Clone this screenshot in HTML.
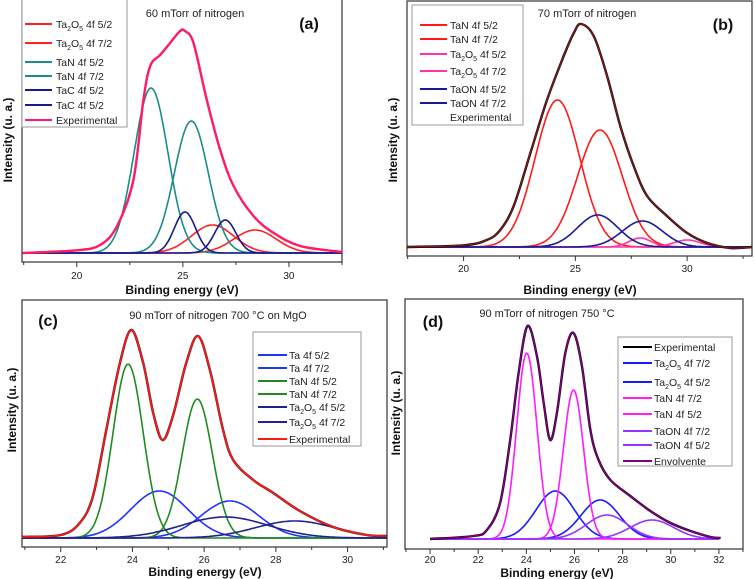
<!DOCTYPE html>
<html><head><meta charset="utf-8"><style>
html,body{margin:0;padding:0;background:#fff;}
svg{display:block;font-family:"Liberation Sans",Arial,sans-serif;}
</style></head><body>
<svg id="fig" width="755" height="579" viewBox="0 0 755 579" xmlns="http://www.w3.org/2000/svg"></svg>
<script>
// ---------- Panel (a) data ----------
const aExpX = [17.44,20,21.1,21.9,22.67,23.14,23.46,23.93,24.4,24.87,25.1,25.5,26.13,26.76,27.39,28.33,29.28,30.53,32.5];
const aExpY = [0,2.7,8,27,73,153,187,198,210,222,222,210,153,103,67,37,20,7,1];
const aPeakNames = ["Ta2O5 4f 5/2","Ta2O5 4f 7/2","TaN 4f 5/2","TaN 4f 7/2","TaC 4f 5/2","TaC 4f 5/2"];
const aPeakCenters = [26.4,28.4,23.5,25.4,25.1,27.0];
const aPeakHeights = [28,23,165,132,41,33];
const aPeakWidths = [1.0,1.0,0.8,0.8,0.5,0.5];
// ---------- Panel (b) data ----------
const bExpX = [17.46,20,21.04,21.64,22.24,22.99,23.73,24.48,24.93,25.25,25.82,26.42,27.01,27.61,28.21,29.1,30,30.9,31.94,32.9];
const bExpY = [0,1.7,7,17,41,94,147,191,214,223,211,171,121,81,51,31,14,4,-1,0];
const bPeakNames = ["TaN 4f 5/2","TaN 4f 7/2","Ta2O5 4f 5/2","Ta2O5 4f 7/2","TaON 4f 5/2","TaON 4f 7/2"];
const bPeakCenters = [24.2,26.1,27.9,30.0,26.0,28.0];
const bPeakHeights = [147,117,9,7,32,26];
const bPeakWidths = [1.0,1.0,0.5,0.6,0.9,0.9];
// ---------- Panel (c) data ----------
const cExpX = [20.92,22,22.53,22.9,23.27,23.65,23.97,24.3,24.58,24.84,25.13,25.5,25.83,26.16,26.53,26.81,27.37,27.93,28.67,29.6,30.53,31.09];
const cExpY = [1,3,15,42,108,175,208,175,125,98,122,175,202,168,108,78,58,45,27,11,3,2];
const cPeakNames = ["Ta 4f 5/2","Ta 4f 7/2","TaN 4f 5/2","TaN 4f 7/2","Ta2O5 4f 5/2","Ta2O5 4f 7/2"];
const cPeakCenters = [24.75,26.72,23.88,25.81,26.58,28.53];
const cPeakHeights = [47,37,174,139,21,17];
const cPeakWidths = [0.8,0.8,0.42,0.42,1.2,1.1];
// ---------- Panel (d) data ----------
const dExpX = [20,21.8,22.36,22.91,23.33,23.68,24.05,24.44,24.72,24.99,25.27,25.62,25.96,26.31,26.66,27.0,27.49,28.32,29.15,29.99,30.82,31.65,32.07];
const dExpY = [0,3,9,36,99,166,213,183,136,99,126,186,206,173,109,79,59,43,28,16,8,2,1];
const dPeakNames = ["Ta2O5 4f 7/2","Ta2O5 4f 5/2","TaN 4f 7/2","TaN 4f 5/2","TaON 4f 7/2","TaON 4f 5/2"];
const dPeakCenters = [25.2,27.07,24.02,25.96,27.35,29.22];
const dPeakHeights = [48,39,186,149,24,19];
const dPeakWidths = [0.8,0.8,0.42,0.42,0.85,0.9];
// tick labels
const aTicks = [20,25,30];
const bTicks = [20,25,30];
const cTicks = [22,24,26,28,30];
const dTicks = [20,22,24,26,28,30,32];

const NS="http://www.w3.org/2000/svg";
const fig=document.getElementById('fig');
function mk(tag,attrs,parent){const e=document.createElementNS(NS,tag);for(const k in attrs)e.setAttribute(k,attrs[k]);(parent||fig).appendChild(e);return e;}

function catmull(pts){
  let d="M"+pts[0][0].toFixed(1)+","+pts[0][1].toFixed(1);
  for(let i=0;i<pts.length-1;i++){
    const p0=pts[Math.max(0,i-1)],p1=pts[i],p2=pts[i+1],p3=pts[Math.min(pts.length-1,i+2)];
    const c1=[p1[0]+(p2[0]-p0[0])/6,p1[1]+(p2[1]-p0[1])/6];
    const c2=[p2[0]-(p3[0]-p1[0])/6,p2[1]-(p3[1]-p1[1])/6];
    d+="C"+c1[0].toFixed(1)+","+c1[1].toFixed(1)+" "+c2[0].toFixed(1)+","+c2[1].toFixed(1)+" "+p2[0].toFixed(1)+","+p2[1].toFixed(1);
  }
  return d;
}

function panel(P){
  const g=mk('g',{});
  
  
  const sx=v=>P.x0+(v-P.xmin)/(P.xmax-P.xmin)*(P.x1-P.x0);
  const sy=h=>P.base-h;
  const fr=mk('rect',{x:P.x0,y:P.top,width:P.x1-P.x0,height:P.axisY-P.top,fill:'none',stroke:'#333','stroke-width':1.2},g);
  
  
  const step=P.ticks[1]-P.ticks[0];
  for(let v=P.ticks[0]-step;v<=P.xmax;v+=step/2){
    if(v<P.xmin)continue;
    const major=P.ticks.indexOf(Math.round(v*100)/100)>=0;
    const t=mk('line',{x1:sx(v),x2:sx(v),y1:P.axisY,y2:P.axisY+(major?5:3),stroke:'#333','stroke-width':1},g);
    
    
  }
  P.ticks.forEach(v=>{
    const t=mk('text',{x:sx(v),y:P.labelY,'font-size':10,'text-anchor':'middle',fill:'#222'},g);
    t.textContent=v;
    
    
  });
  const xt=mk('text',{x:P.xtX,y:P.xtY,'font-size':12,'font-weight':'bold','text-anchor':'middle',fill:'#111'},g);
  xt.textContent='Binding energy (eV)';
  
  
  const yt=mk('text',{x:0,y:0,'font-size':12,'font-weight':'bold','text-anchor':'middle',fill:'#111',transform:`translate(${P.ytX},${P.ytY}) rotate(-90)`},g);
  yt.textContent='Intensity (u. a.)';
  
  
  const cid='clip'+P.id;
  const cp=mk('clipPath',{id:cid},g);
  mk('rect',{x:P.x0,y:P.top,width:P.x1-P.x0,height:P.axisY-P.top},cp);
  const pg=mk('g',{'clip-path':`url(#${cid})`},g);
  for(let i=0;i<P.centers.length;i++){
    const pts=[];
    for(let v=P.cmin;v<=P.cmax+1e-9;v+=0.05){
      const h=P.heights[i]*Math.exp(-0.5*Math.pow((v-P.centers[i])/P.widths[i],2));
      pts.push([sx(v),sy(h)]);
    }
    const p=mk('path',{d:"M"+pts.map(q=>q[0].toFixed(1)+","+q[1].toFixed(1)).join("L"),fill:'none',stroke:P.colors[i],'stroke-width':1.6},pg);
    
    
  }
  const epts=P.ex.map((v,i)=>[sx(v),sy(P.ey[i])]);
  if(P.expUnder){
    const e=mk('path',{d:catmull(epts),fill:'none',stroke:P.expUnder,'stroke-width':2.4},pg);
    
    
  }
  const e2=mk('path',{d:catmull(epts),fill:'none',stroke:P.expColor,'stroke-width':P.expWidth},pg);
  
  
  const L=P.legend;
  const lb=mk('rect',{x:L.x,y:L.y,width:L.w,height:L.h,fill:'#fff',stroke:'#999','stroke-width':1},g);
  
  
  L.items.forEach((it,i)=>{
    const y=L.rows[i];
    if(it.c){
      const ln=mk('line',{x1:L.lx0,x2:L.lx1,y1:y,y2:y,stroke:it.c,'stroke-width':2},g);
      
      
    }
    const t=mk('text',{x:L.tx,y:y+4,'font-size':10.5,fill:'#222'},g);
    
    
    const m=it.t.match(/^Ta2O5(.*)$/);
    if(m){
      t.innerHTML='Ta<tspan font-size="7" dy="3">2</tspan><tspan dy="-3">O</tspan><tspan font-size="7" dy="3">5</tspan><tspan dy="-3">'+m[1]+'</tspan>';
    } else t.textContent=it.t;
  });
  const ti=mk('text',{x:P.titleX,y:P.titleY,'font-size':11,'text-anchor':'middle',fill:'#222'},g);
  ti.textContent=P.title;
  
  
  const lab=mk('text',{x:P.labX,y:P.labY,'font-size':16,'font-weight':'bold','text-anchor':'middle',fill:'#111'},g);
  lab.textContent=P.lab;
  
  
}

panel({id:'a',name:'panel-a',x0:22,x1:342,top:-1,axisY:262,base:253,xmin:17.42,xmax:32.5,cmin:17.4,cmax:32.5,
  ticks:aTicks,labelY:279,xtX:182,xtY:294,ytX:12,ytY:140,
  names:aPeakNames,centers:aPeakCenters,heights:aPeakHeights,widths:aPeakWidths,
  colors:['#ff2020','#ff2020','#1a8c8c','#1a8c8c','#1a1a8c','#1a1a8c'],
  ex:aExpX,ey:aExpY,expUnder:'#ff2020',expColor:'#ff1a75',expWidth:2,
  legend:{x:22,y:-1,w:105,h:128,lx0:25,lx1:52,tx:56,rows:[24,43,62,76,90,105,120],
    items:[{t:'Ta2O5 4f 5/2',c:'#ff2020'},{t:'Ta2O5 4f 7/2',c:'#ff2020'},{t:'TaN 4f 5/2',c:'#1a8c8c'},{t:'TaN 4f 7/2',c:'#1a8c8c'},{t:'TaC 4f 5/2',c:'#1a1a8c'},{t:'TaC 4f 5/2',c:'#1a1a8c'},{t:'Experimental',c:'#ff1a75'}]},
  title:'60 mTorr of nitrogen',titleX:195,titleY:17,lab:'(a)',labX:309,labY:29});

panel({id:'b',name:'panel-b',x0:407,x1:752,top:1,axisY:256,base:247,xmin:17.47,xmax:32.9,cmin:17.4,cmax:32.9,
  ticks:bTicks,labelY:272,xtX:580,xtY:294,ytX:397,ytY:140,
  names:bPeakNames,centers:bPeakCenters,heights:bPeakHeights,widths:bPeakWidths,
  colors:['#ff1a1a','#ff1a1a','#ff33aa','#ff33aa','#1a1a99','#1a1a99'],
  ex:bExpX,ey:bExpY,expUnder:'#000',expColor:'#7a1a1a',expWidth:1.5,
  legend:{x:412,y:5,w:111,h:120,lx0:420,lx1:447,tx:450,rows:[25,39,54,71,89,103,117],
    items:[{t:'TaN 4f 5/2',c:'#ff1a1a'},{t:'TaN 4f 7/2',c:'#ff1a1a'},{t:'Ta2O5 4f 5/2',c:'#ff33aa'},{t:'Ta2O5 4f 7/2',c:'#ff33aa'},{t:'TaON 4f 5/2',c:'#1a1a99'},{t:'TaON 4f 7/2',c:'#1a1a99'},{t:'Experimental',c:null}]},
  title:'70 mTorr of nitrogen',titleX:587,titleY:17,lab:'(b)',labX:723,labY:30});

panel({id:'c',name:'panel-c',x0:22,x1:387,top:300,axisY:547,base:538,xmin:20.92,xmax:31.1,cmin:20.9,cmax:31.1,
  ticks:cTicks,labelY:563,xtX:205,xtY:576,ytX:16,ytY:410,
  names:cPeakNames,centers:cPeakCenters,heights:cPeakHeights,widths:cPeakWidths,
  colors:['#2233ff','#2233ff','#1f8c1f','#1f8c1f','#22228c','#22228c'],
  ex:cExpX,ey:cExpY,expUnder:'#000',expColor:'#ff1a1a',expWidth:1.8,
  legend:{x:253,y:332,w:108,h:114,lx0:258,lx1:287,tx:289,rows:[355,368,381,394,407,422,439],
    items:[{t:'Ta 4f 5/2',c:'#2233ff'},{t:'Ta 4f 7/2',c:'#2233ff'},{t:'TaN 4f 5/2',c:'#1f8c1f'},{t:'TaN 4f 7/2',c:'#1f8c1f'},{t:'Ta2O5 4f 5/2',c:'#22228c'},{t:'Ta2O5 4f 7/2',c:'#22228c'},{t:'Experimental',c:'#ff1a1a'}]},
  title:'90 mTorr of nitrogen 700 °C on MgO',titleX:218,titleY:319,lab:'(c)',labX:48,labY:326});

panel({id:'d',name:'panel-d',x0:405,x1:743,top:299,axisY:549,base:539,xmin:18.96,xmax:33.0,cmin:20,cmax:32,
  ticks:dTicks,labelY:563,xtX:557,xtY:577,ytX:400,ytY:413,
  names:dPeakNames,centers:dPeakCenters,heights:dPeakHeights,widths:dPeakWidths,
  colors:['#1a1aff','#1a1aff','#ff1aff','#ff1aff','#9933ff','#9933ff'],
  ex:dExpX,ey:dExpY,expUnder:'#000',expColor:'#800080',expWidth:1.5,
  legend:{x:618,y:337,w:114,h:129,lx0:623,lx1:652,tx:654,rows:[347,363,382,398,414,431,445,461],
    items:[{t:'Experimental',c:'#000'},{t:'Ta2O5 4f 7/2',c:'#1a1aff'},{t:'Ta2O5 4f 5/2',c:'#1a1aff'},{t:'TaN 4f 7/2',c:'#ff1aff'},{t:'TaN 4f 5/2',c:'#ff1aff'},{t:'TaON 4f 7/2',c:'#9933ff'},{t:'TaON 4f 5/2',c:'#9933ff'},{t:'Envolvente',c:'#800080'}]},
  title:'90 mTorr of nitrogen 750 °C',titleX:547,titleY:317,lab:'(d)',labX:433,labY:327});
</script>
</body></html>
